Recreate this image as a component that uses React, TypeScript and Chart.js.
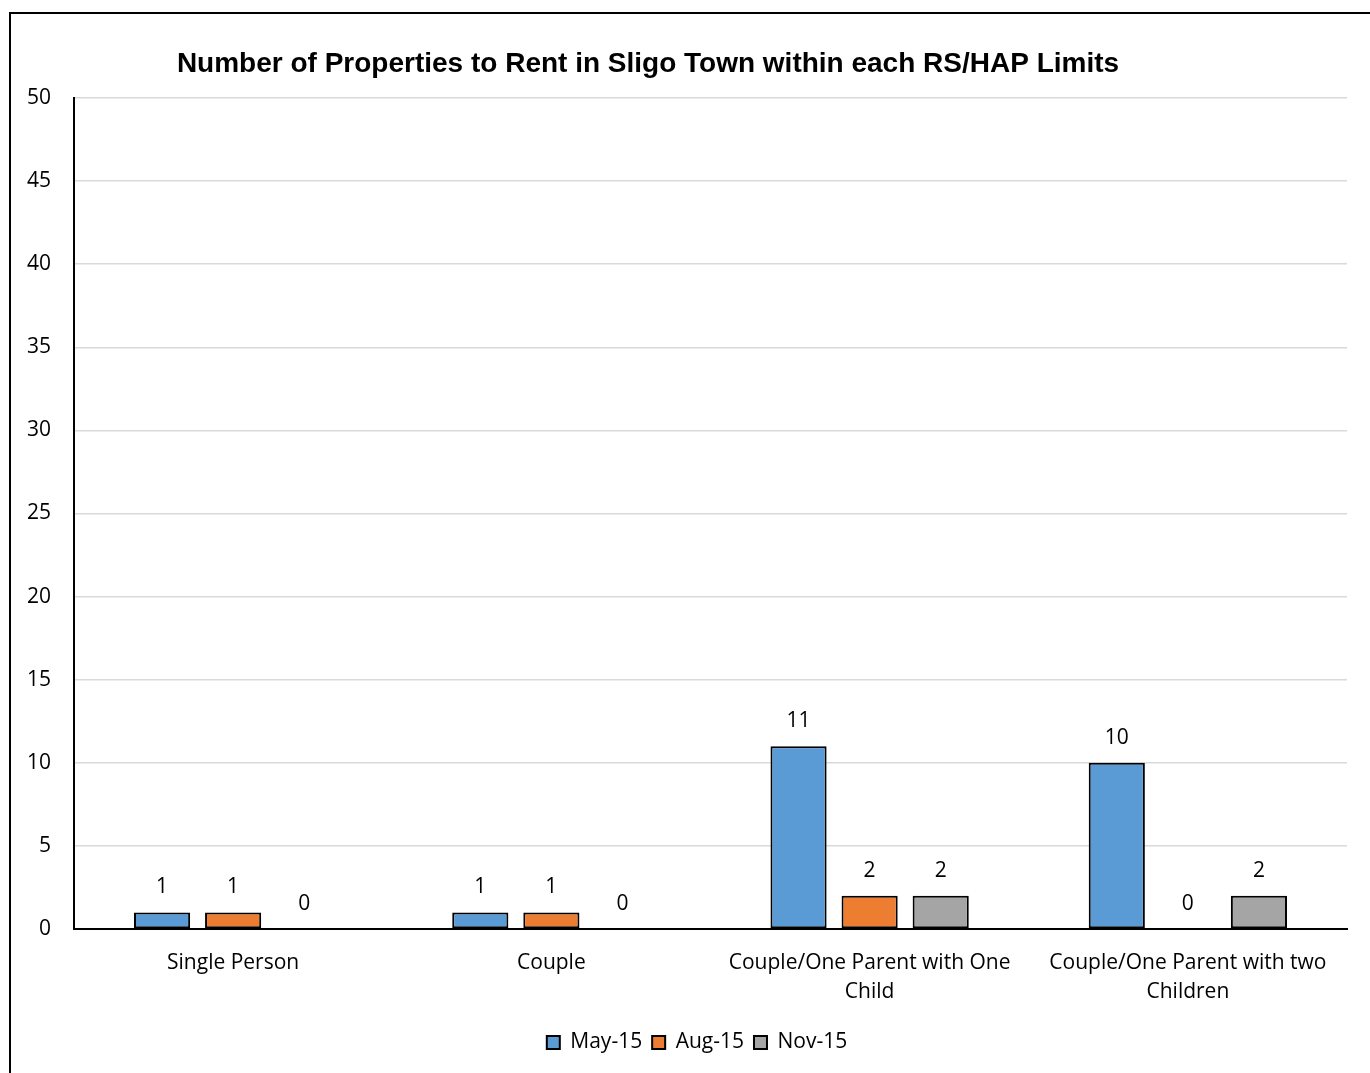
import { useEffect, useRef } from "react";
import { Chart, registerables } from "chart.js";

Chart.register(...registerables);

// Chart content
const chartTitle = "Number of Properties to Rent in Sligo Town within each RS/HAP Limits";
const categories: (string | string[])[] = [
  "Single Person",
  "Couple",
  ["Couple/One Parent with One", "Child"],
  ["Couple/One Parent with two", "Children"],
];
const seriesNames = ["May-15", "Aug-15", "Nov-15"];
const may15 = [1, 1, 11, 10];
const aug15 = [1, 1, 2, 0];
const nov15 = [0, 0, 2, 2];
const seriesColors = ["#5B9BD5", "#ED7D31", "#A5A5A5"];
const yMin = 0;
const yMax = 50;
const yStep = 5;

const bodyFont = "'Open Sans', 'Noto Sans', sans-serif";
const bodySize = 21;

// Numbers printed above every bar (zero values included)
const valueLabels = {
  id: "valueLabels",
  afterDatasetsDraw(chart: Chart) {
    const ctx = chart.ctx;
    ctx.save();
    ctx.font = `${bodySize}px ${bodyFont}`;
    ctx.fillStyle = "#000";
    ctx.textAlign = "center";
    ctx.textBaseline = "middle";
    chart.data.datasets.forEach((ds, i) => {
      const meta = chart.getDatasetMeta(i);
      meta.data.forEach((bar: any, j: number) => {
        const v = ds.data[j] as number;
        ctx.fillText(String(v), bar.x, bar.y - 25);
      });
    });
    ctx.restore();
  },
};

// Heading drawn on the canvas
const headingText = {
  id: "headingText",
  afterDraw(chart: Chart) {
    const ctx = chart.ctx;
    ctx.save();
    ctx.font = "bold 28px 'Liberation Sans', Arial, sans-serif";
    ctx.fillStyle = "#000";
    ctx.textAlign = "center";
    ctx.textBaseline = "alphabetic";
    ctx.fillText(chartTitle, 637, 58);
    ctx.restore();
  },
};

// Centre the legend under the whole frame rather than the canvas box
const legendOffset = {
  id: "legendOffset",
  afterLayout(chart: Chart) {
    const lg: any = chart.legend;
    if (lg) {
      lg.left += 18;
      lg.right += 18;
    }
  },
};

export default function App() {
  const canvasRef = useRef<HTMLCanvasElement | null>(null);

  useEffect(() => {
    if (!canvasRef.current) return;
    const values = [may15, aug15, nov15];
    const chart = new Chart(canvasRef.current, {
      type: "bar",
      data: {
        labels: categories,
        datasets: seriesNames.map((name, i) => ({
          label: name,
          data: values[i],
          backgroundColor: seriesColors[i],
          borderColor: "#000",
          borderWidth: 2,
          borderSkipped: false,
          barPercentage: 0.79,
          categoryPercentage: 0.67,
        })),
      },
      options: {
        responsive: false,
        animation: false,
        layout: { padding: { top: 84, right: 23, bottom: 10, left: 0 } },
        plugins: {
          legend: {
            position: "bottom",
            labels: {
              boxWidth: 13,
              boxHeight: 13,
              padding: 10,
              color: "#000",
              font: { family: bodyFont, size: bodySize },
            },
          },
          title: { display: false },
          tooltip: { enabled: false },
        },
        scales: {
          x: {
            grid: { display: false, drawTicks: false },
            border: { display: true, color: "#000", width: 2 },
            ticks: {
              color: "#000",
              font: { family: bodyFont, size: bodySize, lineHeight: 1.4 },
              padding: 19,
              maxRotation: 0,
              autoSkip: false,
            },
            afterFit: (s: any) => {
              s.height = 93;
            },
          },
          y: {
            min: yMin,
            max: yMax,
            ticks: {
              stepSize: yStep,
              color: "#000",
              font: { family: bodyFont, size: bodySize },
              padding: 23,
            },
            grid: { color: "#D9D9D9", lineWidth: 1.5, drawTicks: false },
            border: { display: true, color: "#000", width: 2 },
            afterFit: (s: any) => {
              s.width = 63;
            },
          },
        },
      },
      plugins: [valueLabels, headingText, legendOffset],
    });
    return () => chart.destroy();
  }, []);

  return (
    <div
      style={{
        position: "fixed",
        left: 9,
        top: 12,
        width: 1361,
        height: 1061,
        boxSizing: "border-box",
        borderTop: "2px solid #000",
        borderLeft: "2px solid #000",
        background: "#fff",
      }}
    >
      <canvas ref={canvasRef} width={1359} height={1059} style={{ display: "block" }} />
    </div>
  );
}
